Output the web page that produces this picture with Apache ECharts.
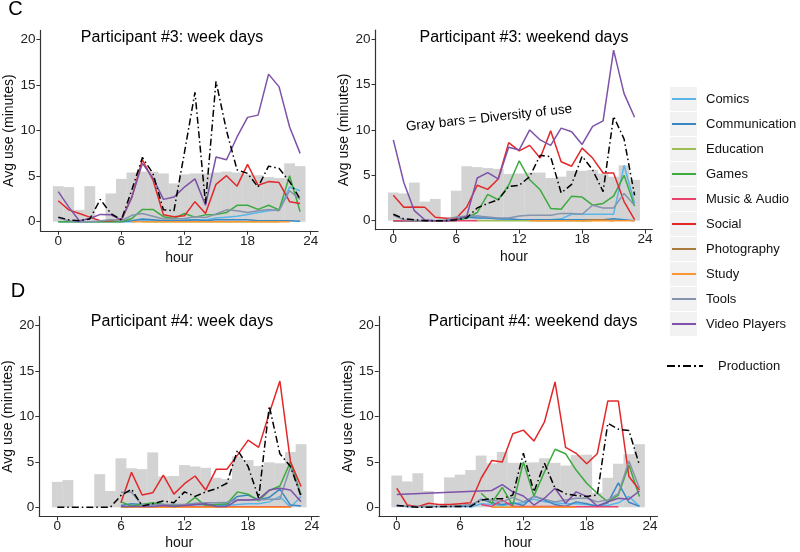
<!DOCTYPE html>
<html>
<head>
<meta charset="utf-8">
<script src="https://cdn.jsdelivr.net/npm/echarts@6/dist/echarts.min.js"></script>
<style>
html,body{margin:0;padding:0;background:#fff;}
#chart{width:800px;height:552px;}
</style>
</head>
<body>
<div id="chart"></div>
<script>
// ---------- DATA ----------
const hours = [0,1,2,3,4,5,6,7,8,9,10,11,12,13,14,15,16,17,18,19,20,21,22,23];
const xTicks = [0,6,12,18,24];
const yTicks = [0,5,10,15,20];
const panelTitles = ['Participant #3: week days','Participant #3: weekend days','Participant #4: week days','Participant #4: weekend days'];
const panelLetters = ['C','D'];
const categories = ['Comics','Communication','Education','Games','Music & Audio','Social','Photography','Study','Tools','Video Players'];
const annotation = 'Gray bars = Diversity of use';
const _ = null;

// gray bars, one array per panel (P3 week, P3 weekend, P4 week, P4 weekend)
const diversity = [
  [3.9,3.8,1.3,3.9,0,3.1,4.7,5.4,5.5,5.5,5.3,4.2,5.2,5.3,5.3,5.4,5.5,5.4,5.2,5.1,4.9,4.8,6.4,6.1],
  [3.1,3.0,4.2,2.1,2.4,0,3.3,6.0,5.9,5.8,5.7,5.15,5.2,5.3,5.3,4.7,4.85,5.5,5.5,5.6,5.2,4.85,6.1,4.5],
  [2.8,3.0,0,0,3.65,1.8,5.4,4.3,4.2,6.05,3.4,3.45,4.65,4.5,4.35,3.25,3.1,5.6,5.2,4.55,4.95,4.85,6.1,6.95],
  [3.5,2.85,3.75,1.8,0,3.3,3.6,4.1,5.7,4.85,6.1,4.9,4.9,4.95,5.4,4.9,4.6,5.75,5.8,1.6,3.25,4.8,5.85,6.95]
];

const comics = [
  [_,_,_,_,_,_,0,0,0.1,0.1,0.1,0.1,0.2,0.2,0.2,0.4,0.5,0.6,0.8,1.0,1.2,1.3,3.8,3.4],
  [0,0,0,0,0,0,0,0.3,0.5,0.3,0.2,0.1,0.1,0.1,0.1,0.1,0.2,0.7,0.7,0.7,0.7,0.7,6.1,1.9],
  [_,_,_,_,_,_,0,0,0.1,0.1,0.1,0.1,0.1,0.1,0.1,0.2,0.2,0.3,0.4,0.4,0.6,1.2,0,1.2],
  [_,_,_,_,_,_,_,0,0.4,0.3,0.2,0.4,0.5,0.9,0.6,0.5,0.4,0.4,0.3,0.2,0.2,0.5,1.2,0.1]
];
const communication = [
  [0,0,0,0,0,0,0,0.1,0.3,0.2,0.1,0.1,0.1,0.2,0.1,0.2,0.2,0.2,0.2,0.1,0.1,0.1,0.1,0.05],
  [0,0,0,0,0,0,0.2,0.4,0.3,0.3,0.2,0.2,0.1,0.1,0.1,0.1,0.1,0.1,0.1,0.1,0.1,0.2,0.1,0],
  [_,_,_,_,_,_,0.2,0.4,0.3,0.3,0.3,0.2,0.2,0.3,0.3,0.3,0.3,1.2,1.35,0.8,1.1,2.0,0.25,0.15],
  [0.2,0.1,0.1,0.1,0.1,0.1,0.1,0.1,0.9,0.5,0.3,0.5,0.2,1.25,0.8,0.3,0.1,0.6,0.4,0.1,0.5,2.7,0.55,0.1]
];
const education = [
  [_,_,_,_,_,_,_,_,0,0,0,0,0,0,0,0,0,0,0,0,0,0,_,_],
  [_,_,_,_,_,_,_,_,0,0,0,0,0,0,0,0,0,0,0,0,_,_,_,_],
  [_,_,_,_,_,_,_,0,0,0,0,0,0,0,0,0,0,0,0,0,0,0,_,_],
  [_,_,_,_,_,_,_,_,_,0,0,0,0,0,0,0,0,0,_,_,_,_,_,_]
];
const games = [
  [0,0,0,0,0,0,0,0.35,1.35,1.35,0.55,0.35,0.9,0.5,0.75,0.8,1.0,1.8,1.8,1.35,1.8,1.3,5.05,1.1],
  [0,0,0,0,0,0,0,0.3,0.9,2.9,2.3,3.9,6.6,4.5,3.4,1.35,1.25,2.7,2.6,1.7,1.9,2.7,5.0,1.6],
  [_,_,_,_,_,_,0.6,0.15,0.3,0.5,0.3,0.2,0.2,1.1,0.15,0.3,0.4,1.7,1.45,0.7,1.85,2.35,5.0,1.35],
  [_,_,_,_,_,_,_,_,1.55,0.45,2.2,0.2,5.0,1.25,3.9,6.4,5.9,4.1,2.65,1.55,0.6,1.35,4.65,1.2]
];
const musicAudio = [
  [_,_,_,_,_,_,_,_,_,_,_,_,_,_,_,_,_,_,_,_,_,_,_,_],
  [0,0,0,0,0,0,0,0,0,_,_,_,_,_,_,_,_,_,_,_,_,_,_,_],
  [_,_,_,_,_,_,_,0.05,0.05,0.05,0.05,0.05,0.05,0.05,0.05,0.05,0.05,0.05,0.05,0.05,0.05,0.05,0.05,_],
  [_,_,_,_,_,_,_,_,0.3,0.1,0.8,0.1,0.1,0.1,0.1,0.1,0.1,0.05,0.05,0.05,0.05,0.05,_,_]
];
const social = [
  [2.3,1.3,0.9,0.5,0.1,0.1,0.2,2.7,6.8,4.6,0.75,0.55,0.65,2.2,0.9,4.1,5.05,3.9,6.3,4.0,4.4,4.3,2.2,2.0],
  [2.8,1.47,1.5,1.47,0.37,0.26,0.26,1.5,3.9,3.45,4.6,8.6,7.7,8.3,6.9,9.9,6.5,6.0,8.0,6.9,5.25,5.25,2.1,0.1],
  [_,_,_,_,_,_,0.5,3.85,1.35,1.6,3.55,1.45,2.6,3.45,1.9,4.2,4.2,5.75,7.4,6.6,10.35,13.9,5.0,2.3],
  [2.1,0.25,0.07,0.45,0.3,0.3,0.4,0.5,3.2,5.15,5.0,8.1,8.5,7.3,9.4,13.8,6.6,5.95,4.8,5.9,11.7,11.7,3.4,1.9]
];
const photography = [
  [_,_,_,_,_,_,_,_,_,_,_,_,_,_,_,_,_,_,_,_,_,_,_,_],
  [_,_,_,_,_,_,_,_,_,_,_,_,_,_,_,_,_,_,0,0.1,0.1,0,_,_],
  [_,_,_,_,_,_,_,_,_,_,_,_,_,_,_,_,_,_,_,_,_,_,_,_],
  [_,_,_,_,_,_,_,_,_,_,_,_,_,_,_,_,_,_,_,_,_,_,_,_]
];
const study = [
  [_,_,_,_,_,_,_,0,0,0,0,0,0,0,0,0,0,0,0,0,0,0,0,_],
  [_,_,_,_,_,_,_,_,_,_,_,_,_,0,0,0,0,0,0,0,0,0,0,0],
  [_,_,_,_,_,_,0,0,0,0,0,0,0,0,0,0,0,0,0,0,0,0,0,_],
  [_,_,_,_,_,_,_,_,_,0,0,0,0,0,0,0,0,0,_,_,_,_,_,_]
];
const tools = [
  [0.4,0.1,0,0,0.1,0.2,0.1,0.7,0.9,0.6,0.3,0.3,0.35,0.55,0.45,0.85,1.3,1.2,1.0,1.2,1.35,1.2,3.4,2.45],
  [0.6,0.1,0.05,0,0,0.1,0.4,0.5,0.5,0.4,0.3,0.3,0.5,0.6,0.6,0.6,0.8,0.8,0.7,1.7,1.4,1.4,3.0,1.7],
  [_,_,_,_,_,_,1.65,1.65,0.25,0.3,0.3,0.3,0.3,0.45,0.5,0.5,0.55,0.8,0.8,0.8,0.9,0.9,4.5,1.35],
  [0.2,0.1,0.1,0.1,0.1,0.1,0.2,0.3,0.8,0.8,0.6,1.1,0.6,1.2,0.9,0.6,0.8,1.0,1.0,0.6,0.8,1.5,5.1,2.1]
];
const videoPlayers = [
  [3.3,1.6,0.1,0.35,0.8,0.75,0.2,2.7,6.4,4.8,2.45,2.7,3.8,4.7,1.8,7.1,6.8,9.3,11.45,11.7,16.2,14.8,10.4,7.5],
  [8.9,4.2,1.1,0.1,0,0,0.1,0.5,4.7,5.3,4.6,8.1,7.8,10.0,8.9,8.3,10.2,9.8,8.4,10.4,11.0,18.8,14.0,11.4],
  [_,_,_,_,_,_,0.1,0.1,0.1,0.1,0.2,0.1,0.2,0.3,0.4,0.1,0.1,0.8,0.8,0.9,1.9,2.1,1.9,0.6],
  [1.4,_,_,_,_,_,_,_,_,1.85,2.5,1.7,1.25,0.25,1.0,2.1,0.45,1.7,1.2,0.15,0.6,1.0,0.9,1.8]
];
const production = [
  [0.5,0.2,0.1,0.3,2.45,0.9,0.2,3.5,7.05,5.3,1.3,1.2,7.6,14.2,2.0,15.4,10.0,5.7,5.3,3.8,6.1,5.85,4.4,2.5],
  [0.7,0.2,0.1,0,0,0,0.1,0.3,1.4,1.9,2.3,3.75,3.9,4.85,7.2,7.05,3.05,4.0,7.1,5.6,3.2,11.5,9.0,2.8],
  [0,0,0,0,0,0,1.3,2.0,0.15,0.4,0.7,0.5,1.7,1.2,1.7,2.05,2.65,6.3,4.5,1.0,11.15,5.9,4.5,1.2],
  [0.2,0.1,0,0,0.1,0.1,0.1,0.1,0.8,0.95,0.95,1.35,5.95,1.7,4.85,2.1,1.5,1.3,1.2,1.35,9.25,8.6,8.45,4.65]
];
const categoryValues = [comics, communication, education, games, musicAudio, social, photography, study, tools, videoPlayers];

// ---------- STYLE / LAYOUT ----------
const colors = ['#5BB5E8','#3B87C4','#9CBE55','#3DAA40','#E8416E','#E3282A','#A87A3E','#FB9733','#8593AD','#7D52A8'];
const FONT = "'Liberation Sans', Arial, sans-serif";
const grids = [
  {left: 40.4, top: 30.4, width: 277.6, height: 200.4},
  {left: 375.5, top: 30.2, width: 276.9, height: 199.5},
  {left: 39.3, top: 316.6, width: 279.8, height: 199.8},
  {left: 378.8, top: 316.6, width: 278.6, height: 199.8}
];
const titlePos = [[172,37.5],[524,37.5],[182,322],[533,321.5]];
const X_MIN = -1.7, X_MAX = 24.7, Y_MIN = -1, Y_MAX = 21;

const xAxes = [], yAxes = [], series = [];
grids.forEach((g, p) => {
  xAxes.push({
    type: 'value', gridIndex: p, min: X_MIN, max: X_MAX,
    name: 'hour', nameLocation: 'middle', nameGap: 20,
    nameTextStyle: {fontFamily: FONT, fontSize: 14, color: '#111'},
    axisLine: {show: true, onZero: false, lineStyle: {color: '#333', width: 1.2}},
    axisTick: {show: true, length: 4, customValues: xTicks, lineStyle: {color: '#333'}},
    axisLabel: {customValues: xTicks, fontFamily: FONT, fontSize: 13.5, color: '#222', margin: 3},
    splitLine: {show: false}
  });
  yAxes.push({
    type: 'value', gridIndex: p, min: Y_MIN, max: Y_MAX,
    name: 'Avg use (minutes)', nameLocation: 'middle', nameGap: 22,
    nameTextStyle: {fontFamily: FONT, fontSize: 14, color: '#111'},
    axisLine: {show: true, onZero: false, lineStyle: {color: '#333', width: 1.2}},
    axisTick: {show: true, length: 4, customValues: yTicks, lineStyle: {color: '#333'}},
    axisLabel: {customValues: yTicks, fontFamily: FONT, fontSize: 13.5, color: '#222', margin: 5},
    splitLine: {show: false}
  });
  series.push({
    type: 'bar', name: 'Diversity of use', xAxisIndex: p, yAxisIndex: p,
    barWidth: g.width / (X_MAX - X_MIN) + 0.3,
    itemStyle: {color: '#D3D3D3'},
    silent: true, z: 1,
    data: hours.map((h, i) => [h, diversity[p][i]])
  });
  categories.forEach((c, k) => {
    series.push({
      type: 'line', name: c, xAxisIndex: p, yAxisIndex: p,
      showSymbol: false, symbol: 'none', z: 2,
      lineStyle: {color: colors[k], width: 1.5},
      itemStyle: {color: colors[k]},
      data: hours.map((h, i) => [h, categoryValues[k][p][i]]).filter(d => d[1] !== null)
    });
  });
  series.push({
    type: 'line', name: 'Production', xAxisIndex: p, yAxisIndex: p,
    showSymbol: false, symbol: 'none', z: 3,
    lineStyle: {color: '#000', width: 1.5, type: [7, 3, 1.5, 3]},
    itemStyle: {color: '#000'},
    data: hours.map((h, i) => [h, production[p][i]])
  });
});

const graphics = [];
// legend key backgrounds
const LEG_TOP = 86.5, ROW = 25;
categories.forEach((c, k) => {
  graphics.push({type: 'rect', left: 670, top: LEG_TOP + ROW * k + 0.5, z: -1,
    shape: {width: 27, height: 24}, style: {fill: '#F2F2F2'}, silent: true});
});
panelTitles.forEach((t, p) => {
  graphics.push({type: 'text', x: titlePos[p][0], y: titlePos[p][1], z: 10,
    style: {text: t, fontFamily: FONT, fontSize: 16, fill: '#000', textAlign: 'center', textVerticalAlign: 'middle'}});
});
graphics.push({type: 'text', x: 15.5, y: 9, style: {text: panelLetters[0], fontFamily: FONT, fontSize: 20, fill: '#000', textAlign: 'center', textVerticalAlign: 'middle'}});
graphics.push({type: 'text', x: 18, y: 291, style: {text: panelLetters[1], fontFamily: FONT, fontSize: 20, fill: '#000', textAlign: 'center', textVerticalAlign: 'middle'}});
graphics.push({type: 'text', x: 489, y: 118, rotation: 0.108, z: 10,
  style: {text: annotation, fontFamily: FONT, fontSize: 13.5, fill: '#000', textAlign: 'center', textVerticalAlign: 'middle'}});

const chart = echarts.init(document.getElementById('chart'), null, {renderer: 'canvas'});
chart.setOption({
  animation: false,
  backgroundColor: '#fff',
  grid: grids.map(g => Object.assign({containLabel: false}, g)),
  xAxis: xAxes,
  yAxis: yAxes,
  legend: [
    {
      data: categories, orient: 'vertical', left: 672, top: LEG_TOP, padding: 0,
      itemGap: 0, itemWidth: 24, itemHeight: 2, icon: 'rect',
      textStyle: {fontFamily: FONT, fontSize: 13, color: '#111', lineHeight: ROW, padding: [0, 0, 0, 5]},
      selectedMode: false
    },
    {
      data: ['Production'], orient: 'vertical', left: 667, top: 366 - ROW / 2, padding: 0,
      itemWidth: 36, itemHeight: 2,
      icon: 'path://M0,0h8v2h-8z M11,0h2v2h-2z M16,0h8v2h-8z M27,0h2v2h-2z M32,0h4v2h-4z',
      textStyle: {fontFamily: FONT, fontSize: 13, color: '#111', lineHeight: ROW, padding: [0, 0, 0, 10]},
      selectedMode: false
    }
  ],
  graphic: graphics,
  series: series
});
</script>
</body>
</html>
